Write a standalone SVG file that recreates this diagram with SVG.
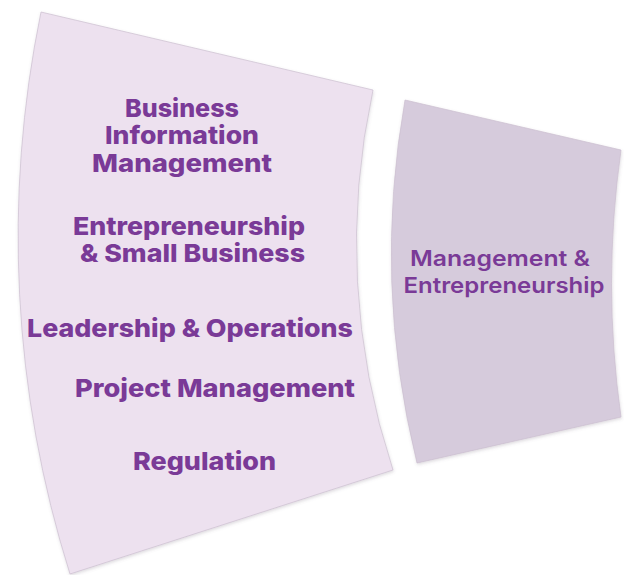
<svg xmlns="http://www.w3.org/2000/svg" width="624" height="575" viewBox="0 0 624 575">
  <defs>
    <filter id="shadow" x="-5%" y="-5%" width="110%" height="110%">
      <feDropShadow dx="0.5" dy="1.5" stdDeviation="1.5" flood-color="#6b5a70" flood-opacity="0.22"/>
    </filter>
    <style>
      .panel { stroke: #cbbfd0; stroke-width: 0.7; filter: url(#shadow); }
      .left { fill: #ede1ef; }
      .right { fill: #d6cbdc; }
      .lbl { font-family: Inter, "Open Sans", "Liberation Sans", sans-serif; fill: #7a3a97; text-anchor: middle; }
      .big { font-size: 25px; font-weight: 800; }
      .mid { font-size: 22px; font-weight: 600; }
    </style>
  </defs>
  <rect width="624" height="575" fill="#ffffff"/>

  <g id="panel-courses">
    <path class="panel left" d="M41,12 L373,90 A720,720 0 0 0 393,470 L70,574 A1120,1120 0 0 1 41,12 Z"/>
    <text class="lbl big" x="182" y="117" textLength="114" lengthAdjust="spacingAndGlyphs">Business</text>
    <text class="lbl big" x="182" y="144" textLength="154" lengthAdjust="spacingAndGlyphs">Information</text>
    <text class="lbl big" x="182" y="172" textLength="180" lengthAdjust="spacingAndGlyphs">Management</text>
    <text class="lbl big" x="189" y="235" textLength="232" lengthAdjust="spacingAndGlyphs">Entrepreneurship</text>
    <text class="lbl big" x="192.5" y="262" textLength="225" lengthAdjust="spacingAndGlyphs">&amp; Small Business</text>
    <text class="lbl big" x="190" y="337" textLength="326" lengthAdjust="spacingAndGlyphs">Leadership &amp; Operations</text>
    <text class="lbl big" x="215" y="397" textLength="280" lengthAdjust="spacingAndGlyphs">Project Management</text>
    <text class="lbl big" x="204.5" y="470" textLength="143" lengthAdjust="spacingAndGlyphs">Regulation</text>
  </g>

  <g id="panel-program">
    <path class="panel right" d="M405,100 L621,150 A950,950 0 0 0 621,417 L417,463 A876,876 0 0 1 405,100 Z"/>
    <text class="lbl mid" x="500" y="266" textLength="180" lengthAdjust="spacingAndGlyphs">Management &amp;</text>
    <text class="lbl mid" x="504" y="293" textLength="201" lengthAdjust="spacingAndGlyphs">Entrepreneurship</text>
  </g>
</svg>
